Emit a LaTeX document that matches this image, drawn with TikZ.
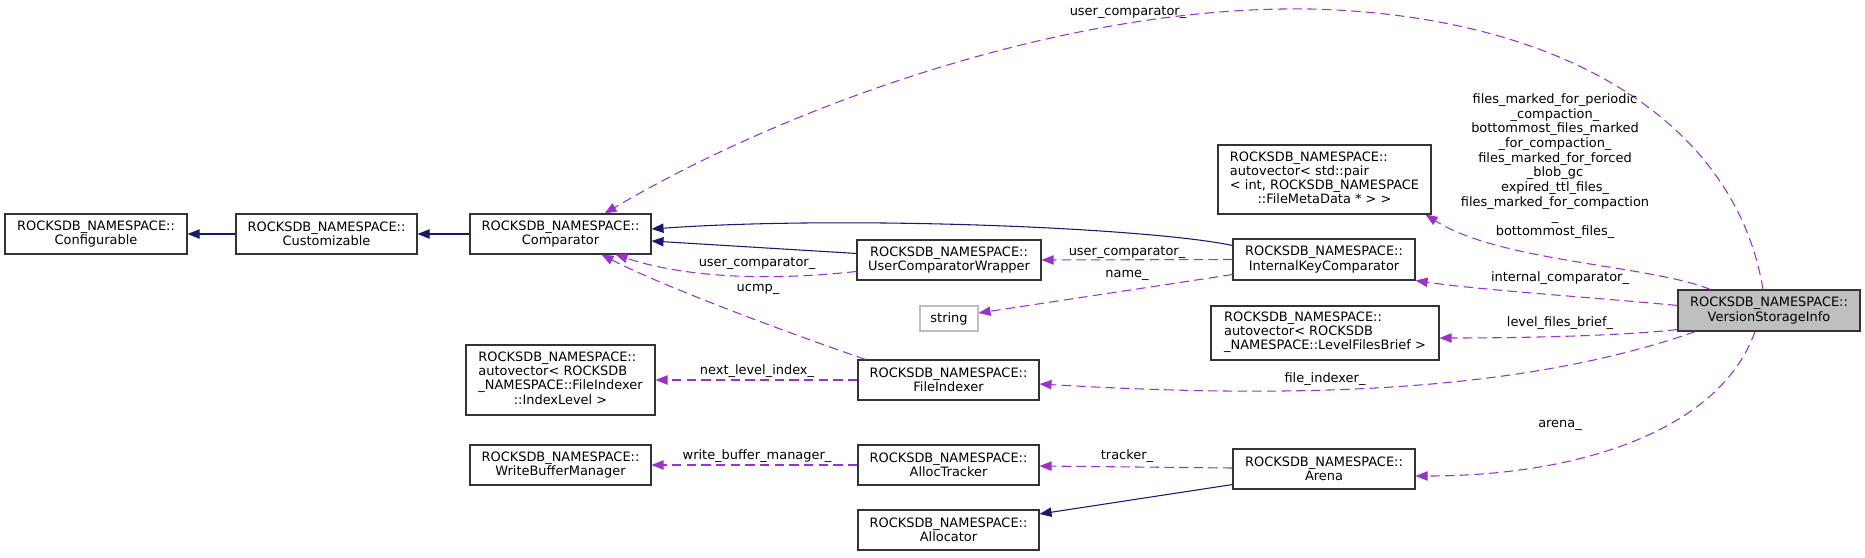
\documentclass[tikz,border=0pt]{standalone}
\usepackage{fontspec}
\setmainfont{DejaVu Sans}
\usetikzlibrary{arrows.meta,calc}
\definecolor{edgepurple}{HTML}{9A32CD}
\definecolor{edgenavy}{HTML}{191970}
\definecolor{boxgray}{HTML}{BFBFBF}
\definecolor{boxline}{HTML}{333333}
\newcommand\dgfont{\fontsize{9.7}{10.6}\selectfont}
\newcommand\dglblfont{\fontsize{9.7}{11}\selectfont}
\tikzset{
  cls/.style={draw=boxline, line width=0.8pt, rectangle, inner sep=0pt, align=center, font=\dgfont, fill=white},
  clsb/.style={draw=boxline, line width=0.8pt, rectangle, inner sep=0pt, font=\dgfont, fill=white},
  std/.style={minimum width=135.75pt, minimum height=30pt},
  inh/.style={draw=edgenavy, line width=0.8pt, -{Triangle[length=9pt,width=7pt]}},
  use/.style={draw=edgepurple, line width=0.8pt, dash pattern=on 7pt off 4pt, -{Triangle[length=9pt,width=7pt]}},
  lbl/.style={font=\dglblfont, inner sep=0pt, align=center}
}
\begin{document}
\begin{tikzpicture}[x=0.75pt,y=-0.75pt]
\useasboundingbox (0,0) rectangle (1865,557);
% class nodes
\node[cls,minimum width=136.5pt,minimum height=30pt] (conf) at (96,234) {ROCKSDB\_NAMESPACE::\\Configurable};
\node[cls,std] (cust) at (326.5,234) {ROCKSDB\_NAMESPACE::\\Customizable};
\node[cls,std] (cmp) at (560.5,234) {ROCKSDB\_NAMESPACE::\\Comparator};
\node[cls,minimum width=138pt,minimum height=30pt] (ucw) at (949,260) {ROCKSDB\_NAMESPACE::\\UserComparatorWrapper};
\node[cls,draw=boxgray,minimum width=43.5pt,minimum height=18.75pt] (str) at (949,318.5) {string};
\node[cls,std] (fi) at (948.5,380) {ROCKSDB\_NAMESPACE::\\FileIndexer};
\node[clsb,minimum width=141.75pt,minimum height=52.5pt] (il) at (560.5,380) {\begin{tabular}{@{}l@{}}ROCKSDB\_NAMESPACE::\\autovector< ROCKSDB\\\_NAMESPACE::FileIndexer\\\multicolumn{1}{@{}c@{}}{::IndexLevel >}\end{tabular}};
\node[cls,std] (wbm) at (560.5,465) {ROCKSDB\_NAMESPACE::\\WriteBufferManager};
\node[cls,std] (at) at (948.5,465) {ROCKSDB\_NAMESPACE::\\AllocTracker};
\node[cls,std] (alloc) at (948.5,530) {ROCKSDB\_NAMESPACE::\\Allocator};
\node[clsb,minimum width=159.75pt,minimum height=51.75pt] (pair) at (1324.5,179.5) {\begin{tabular}{@{}l@{}}ROCKSDB\_NAMESPACE::\\autovector< std::pair\\< int, ROCKSDB\_NAMESPACE\\\multicolumn{1}{@{}c@{}}{::FileMetaData * > >}\end{tabular}};
\node[cls,minimum width=136.5pt,minimum height=30.75pt] (icmp) at (1324,259.5) {ROCKSDB\_NAMESPACE::\\InternalKeyComparator};
\node[clsb,minimum width=171pt,minimum height=40.5pt] (lfb) at (1325,333) {\begin{tabular}{@{}l@{}}ROCKSDB\_NAMESPACE::\\autovector< ROCKSDB\\\_NAMESPACE::LevelFilesBrief >\end{tabular}};
\node[cls,minimum width=136.5pt,minimum height=30pt] (arena) at (1324,469) {ROCKSDB\_NAMESPACE::\\Arena};
\node[cls,fill=boxgray,minimum width=136.5pt,minimum height=30.75pt] (vsi) at (1769,310.5) {ROCKSDB\_NAMESPACE::\\VersionStorageInfo};
% inheritance edges
\draw[inh] (cust.west) -- (conf.east);
\draw[inh] (cmp.west) -- (cust.east);
\draw[inh] ($(icmp.north west)+(0,7)$) .. controls (1150,228) and (850,215) .. ($(cmp.east)+(0,-5)$);
\draw[inh] ($(ucw.north west)+(0,14)$) -- ($(cmp.east)+(0,7)$);
\draw[inh] ($(arena.south west)+(0,-5)$) -- ($(alloc.east)+(0,-16)$);
% usage edges
\draw[use] ($(ucw.north west)+(0,32)$) .. controls (760,282) and (680,276) .. ($(cmp.south east)+(-36,0)$);
\draw[use] ($(fi.north west)+(8,0)$) .. controls (780,330) and (660,285) .. ($(cmp.south)+(41,0)$);
\draw[use] ($(vsi.north)+(-6,0)$) .. controls (1735,120) and (1560,15) .. (1310,9) .. controls (1060,5) and (780,110) .. ($(cmp.north)+(44,0)$);
\draw[use] (icmp.west) -- (ucw.east);
\draw[use] ($(icmp.south west)+(0,-6)$) -- ($(str.east)+(0,-5.5)$);
\draw[use] ($(vsi.north west)+(33,0)$) .. controls (1650,265) and (1500,262) .. ($(pair.south east)+(-6,0)$);
\draw[use] ($(vsi.north west)+(0,16)$) .. controls (1600,298) and (1480,290) .. (icmp.south east);
\draw[use] ($(vsi.south west)+(0,-2)$) .. controls (1620,336) and (1520,338) .. ($(lfb.east)+(0,5)$);
\draw[use] ($(vsi.south west)+(18,0)$) .. controls (1500,400) and (1250,396) .. ($(fi.east)+(0,4)$);
\draw[use] ($(vsi.south)+(-14,0)$) .. controls (1720,430) and (1580,476) .. ($(arena.east)+(0,7)$);
\draw[use] (fi.west) -- (il.east);
\draw[use] (at.west) -- (wbm.east);
\draw[use] ($(arena.west)+(0,-1)$) -- ($(at.east)+(0,1)$);
% edge labels
\node[lbl] (l1) at (1128,12) {user\_comparator\_};
\node[lbl] (l2) at (1127,252) {user\_comparator\_};
\node[lbl] (l3) at (1127,275) {name\_};
\node[lbl] (l4) at (757,263) {user\_comparator\_};
\node[lbl] (l5) at (758,289) {ucmp\_};
\node[lbl] (l6) at (757,371) {next\_level\_index\_};
\node[lbl] (l7) at (757,456) {write\_buffer\_manager\_};
\node[lbl] (l8) at (1127,456) {tracker\_};
\node[lbl] (l9) at (1560,278) {internal\_comparator\_};
\node[lbl] (l10) at (1560,323) {level\_files\_brief\_};
\node[lbl] (l11) at (1325,379) {file\_indexer\_};
\node[lbl] (l12) at (1560,425) {arena\_};
\node[lbl] (l13) at (1555,166) {files\_marked\_for\_periodic\\\_compaction\_\\bottommost\_files\_marked\\\_for\_compaction\_\\files\_marked\_for\_forced\\\_blob\_gc\\expired\_ttl\_files\_\\files\_marked\_for\_compaction\\\_\\bottommost\_files\_};
\end{tikzpicture}
\end{document}
